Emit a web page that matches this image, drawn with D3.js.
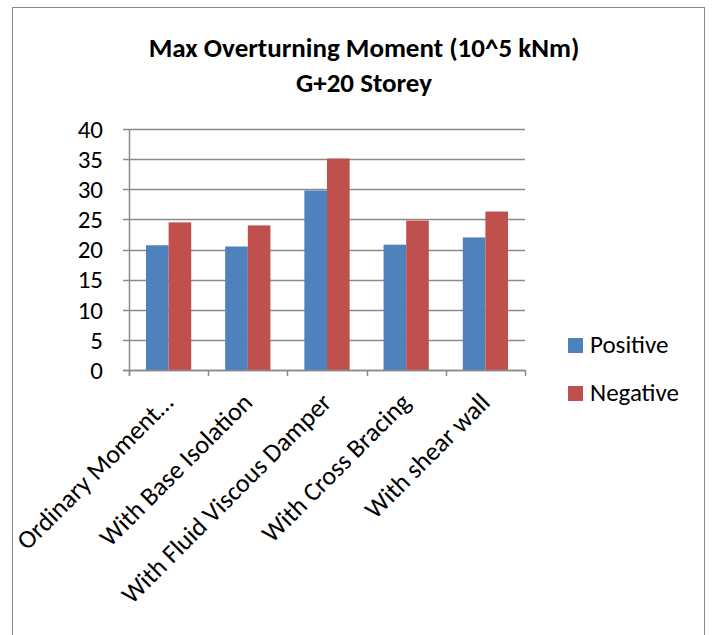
<!DOCTYPE html>
<html>
<head>
<meta charset="utf-8">
<title>Max Overturning Moment</title>
<style>
  body { margin: 0; background: #ffffff; }
  svg text { font-family: Carlito, Calibri, "Liberation Sans", sans-serif; fill: #000; }
</style>
</head>
<body>
<svg id="chart" width="715" height="635"></svg>
<script src="https://d3js.org/d3.v7.min.js"></script>
<script>
// Chart data
const categories = ["Ordinary Moment\u2026", "With Base Isolation", "With Fluid Viscous Damper", "With Cross Bracing", "With shear wall"];
const seriesNames = ["Positive", "Negative"];
const positiveValues = [20.7, 20.5, 29.8, 20.8, 22.0];
const negativeValues = [24.5, 24.0, 35.1, 24.8, 26.3];
const yTicks = [0, 5, 10, 15, 20, 25, 30, 35, 40];
const titleLines = ["Max Overturning Moment (10^5 kNm)", "G+20 Storey"];

const colors = { Positive: "#4F81BD", Negative: "#C0504D" };
const gridColor = "#8a8a8a";

const svg = d3.select("#chart");

// outer chart border
svg.append("rect")
  .attr("x", 12.5).attr("y", 7.5)
  .attr("width", 692).attr("height", 660)
  .attr("fill", "#fff")
  .attr("stroke", "#878787")
  .attr("stroke-width", 1);

// plot area
const plot = { left: 129, right: 525, top: 129, bottom: 370 };

const x0 = d3.scaleBand()
  .domain(categories)
  .range([plot.left, plot.right])
  .padding(0);

const x1 = d3.scaleBand()
  .domain(seriesNames)
  .range([0, x0.bandwidth()])
  .paddingInner(0)
  .paddingOuter(0.75);

const y = d3.scaleLinear()
  .domain([0, 40])
  .range([plot.bottom, plot.top]);

// gridlines
svg.append("g")
  .selectAll("line")
  .data(yTicks)
  .join("line")
  .attr("x1", plot.left - 6)
  .attr("x2", plot.right)
  .attr("y1", d => Math.round(y(d)) + 0.5)
  .attr("y2", d => Math.round(y(d)) + 0.5)
  .attr("stroke", gridColor)
  .attr("stroke-width", 1.5);

// y tick labels
svg.append("g")
  .selectAll("text")
  .data(yTicks)
  .join("text")
  .attr("x", 103)
  .attr("y", d => y(d))
  .attr("dy", "0.35em")
  .attr("text-anchor", "end")
  .attr("font-size", "25px")
  .text(d => d);

// bars
const rows = categories.map((c, i) => ({
  category: c,
  values: [
    { key: "Positive", value: positiveValues[i] },
    { key: "Negative", value: negativeValues[i] }
  ]
}));

svg.append("g")
  .selectAll("g")
  .data(rows)
  .join("g")
  .attr("transform", d => `translate(${x0(d.category)},0)`)
  .selectAll("rect")
  .data(d => d.values)
  .join("rect")
  .attr("x", d => x1(d.key))
  .attr("y", d => y(d.value))
  .attr("width", x1.bandwidth())
  .attr("height", d => y(0) - y(d.value))
  .attr("fill", d => colors[d.key]);

// axes lines
svg.append("line")
  .attr("x1", plot.left + 0.5).attr("x2", plot.left + 0.5)
  .attr("y1", plot.top).attr("y2", plot.bottom + 6)
  .attr("stroke", gridColor).attr("stroke-width", 1.5);

svg.append("line")
  .attr("x1", plot.left - 6).attr("x2", plot.right)
  .attr("y1", plot.bottom + 0.5).attr("y2", plot.bottom + 0.5)
  .attr("stroke", gridColor).attr("stroke-width", 1.5);

// category tick marks
const tickPositions = categories.map(c => x0(c)).concat([plot.right]);
svg.append("g")
  .selectAll("line")
  .data(tickPositions)
  .join("line")
  .attr("x1", d => Math.round(d) + 0.5)
  .attr("x2", d => Math.round(d) + 0.5)
  .attr("y1", plot.bottom)
  .attr("y2", plot.bottom + 6)
  .attr("stroke", gridColor)
  .attr("stroke-width", 1.5);

// rotated category labels
svg.append("g")
  .selectAll("text")
  .data(categories)
  .join("text")
  .attr("transform", d => {
    const cx = x0(d) + x0.bandwidth() / 2 + 6;
    return `translate(${cx},${plot.bottom + 34}) rotate(-45)`;
  })
  .attr("text-anchor", "end")
  .attr("font-size", "26px")
  .text(d => d);

// title
svg.append("g")
  .selectAll("text")
  .data(titleLines)
  .join("text")
  .attr("x", 364)
  .attr("y", (d, i) => 57 + i * 35)
  .attr("text-anchor", "middle")
  .attr("font-size", "27px")
  .attr("font-weight", "bold")
  .text(d => d);

// legend
const legend = svg.append("g")
  .selectAll("g")
  .data(seriesNames)
  .join("g")
  .attr("transform", (d, i) => `translate(568,${338 + i * 48})`);

legend.append("rect")
  .attr("width", 15)
  .attr("height", 15)
  .attr("fill", d => colors[d]);

legend.append("text")
  .attr("x", 22)
  .attr("y", 15)
  .attr("font-size", "25px")
  .text(d => d);
</script>
</body>
</html>
